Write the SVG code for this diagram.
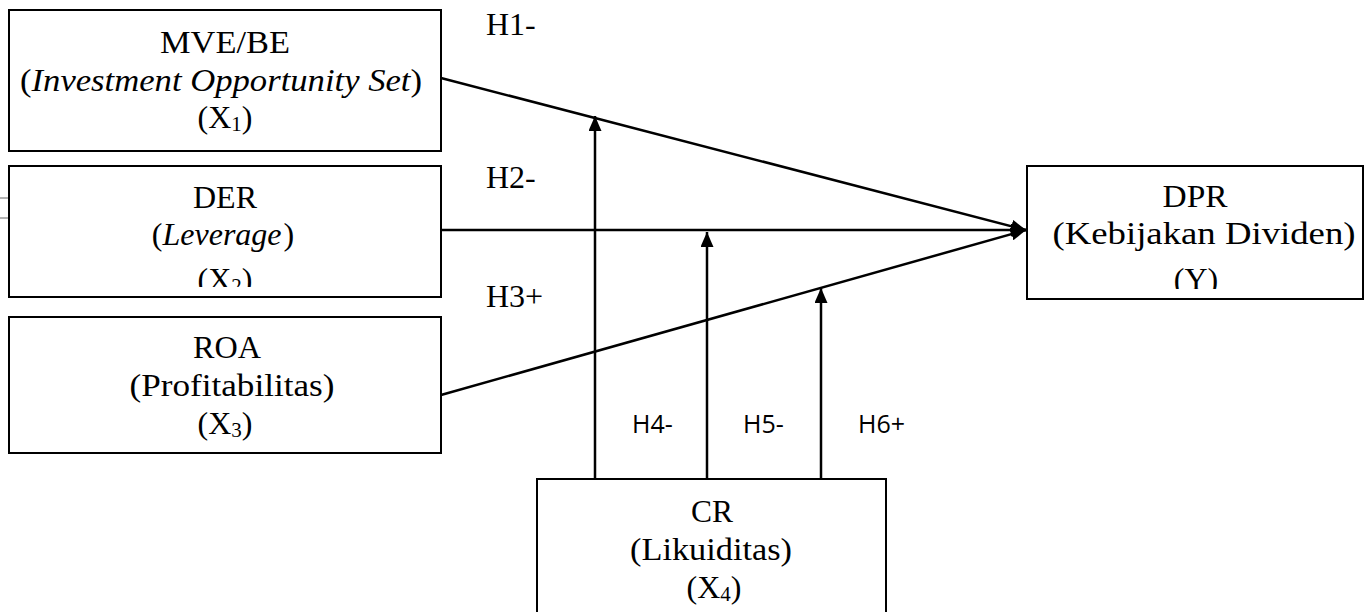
<svg xmlns="http://www.w3.org/2000/svg" width="1369" height="612" viewBox="0 0 1369 612">
  <style>
    .box { fill: #ffffff; stroke: #000000; stroke-width: 2; }
    .lbl { font-family: "Liberation Serif", "Times New Roman", serif; font-size: 32px; fill: #000000; text-anchor: middle; }
    .it { font-style: italic; }
    .sub { font-size: 21px; }
    .hyp { font-family: "Liberation Serif", "Times New Roman", serif; font-size: 32px; fill: #000000; }
    .hyp2 { font-family: "Open Sans", "Liberation Sans", sans-serif; font-size: 25px; fill: #000000; }
    .link { fill: none; stroke: #000000; stroke-width: 2.5; marker-end: url(#arrow); }
    .tick { stroke: #666666; stroke-width: 1; }
  </style>
  <defs>
    <marker id="arrow" markerUnits="userSpaceOnUse" markerWidth="15" markerHeight="13" refX="15" refY="6.5" orient="auto">
      <path d="M0,0 L15,6.5 L0,13 Z" fill="#000000"/>
    </marker>
    <clipPath id="clipDer"><rect x="9" y="166" width="432" height="121"/></clipPath>
    <clipPath id="clipDpr"><rect x="1027" y="166" width="336" height="123"/></clipPath>
  </defs>

  <rect width="1369" height="612" fill="#ffffff"/>

  <!-- X1: investment opportunity set -->
  <g id="node-mvebe">
    <rect class="box" x="9" y="10" width="432" height="141"/>
    <text class="lbl" x="225" y="53" textLength="130" lengthAdjust="spacingAndGlyphs">MVE/BE</text>
    <text class="lbl" x="221" y="91" textLength="402" lengthAdjust="spacingAndGlyphs">(<tspan class="it">Investment Opportunity Set</tspan>)</text>
    <text class="lbl" x="225" y="128">(X<tspan class="sub" dy="3">1</tspan><tspan dy="-3">)</tspan></text>
  </g>

  <!-- X2: leverage -->
  <g id="node-der">
    <rect class="box" x="9" y="166" width="432" height="131"/>
    <g clip-path="url(#clipDer)">
      <text class="lbl" x="225" y="208" textLength="64" lengthAdjust="spacingAndGlyphs">DER</text>
      <text class="lbl" x="223" y="245">(<tspan class="it">Leverage</tspan><tspan dx="2">)</tspan></text>
      <text class="lbl" x="225" y="290">(X<tspan class="sub" dy="3">2</tspan><tspan dy="-3">)</tspan></text>
    </g>
    <line class="tick" x1="0" y1="198" x2="8" y2="198"/>
    <line class="tick" x1="0" y1="218" x2="8" y2="218"/>
  </g>

  <!-- X3: profitability -->
  <g id="node-roa">
    <rect class="box" x="9" y="317" width="432" height="136"/>
    <text class="lbl" x="227" y="358" textLength="68" lengthAdjust="spacingAndGlyphs">ROA</text>
    <text class="lbl" x="232" y="396" textLength="205" lengthAdjust="spacingAndGlyphs">(Profitabilitas)</text>
    <text class="lbl" x="225" y="434">(X<tspan class="sub" dy="3">3</tspan><tspan dy="-3">)</tspan></text>
  </g>

  <!-- Y: dividend policy -->
  <g id="node-dpr">
    <rect class="box" x="1027" y="166" width="336" height="133"/>
    <g clip-path="url(#clipDpr)">
      <text class="lbl" x="1195" y="207" textLength="65" lengthAdjust="spacingAndGlyphs">DPR</text>
      <text class="lbl" x="1204" y="244" textLength="303" lengthAdjust="spacingAndGlyphs">(Kebijakan Dividen)</text>
      <text class="lbl" x="1196" y="290">(Y)</text>
    </g>
  </g>

  <!-- X4: liquidity (moderator) -->
  <g id="node-cr">
    <rect class="box" x="537" y="479" width="349" height="150"/>
    <text class="lbl" x="712" y="522" textLength="42" lengthAdjust="spacingAndGlyphs">CR</text>
    <text class="lbl" x="711" y="560" textLength="162" lengthAdjust="spacingAndGlyphs">(Likuiditas)</text>
    <text class="lbl" x="714" y="598">(X<tspan class="sub" dy="3">4</tspan><tspan dy="-3">)</tspan></text>
  </g>

  <!-- hypothesis paths -->
  <g id="connectors">
    <line class="link" x1="441" y1="78" x2="1026" y2="230"/>
    <line class="link" x1="441" y1="230" x2="1026" y2="230"/>
    <line class="link" x1="441" y1="395" x2="1026" y2="230"/>
    <line class="link" x1="595" y1="479" x2="595" y2="116"/>
    <line class="link" x1="707" y1="479" x2="707" y2="232"/>
    <line class="link" x1="821" y1="479" x2="821" y2="288"/>
  </g>

  <g id="hypothesis-labels">
    <text class="hyp" x="486" y="35">H1-</text>
    <text class="hyp" x="486" y="188">H2-</text>
    <text class="hyp" x="486" y="307">H3+</text>
    <text class="hyp2" x="632" y="433">H4-</text>
    <text class="hyp2" x="743" y="433">H5-</text>
    <text class="hyp2" x="858" y="433">H6+</text>
  </g>
</svg>
